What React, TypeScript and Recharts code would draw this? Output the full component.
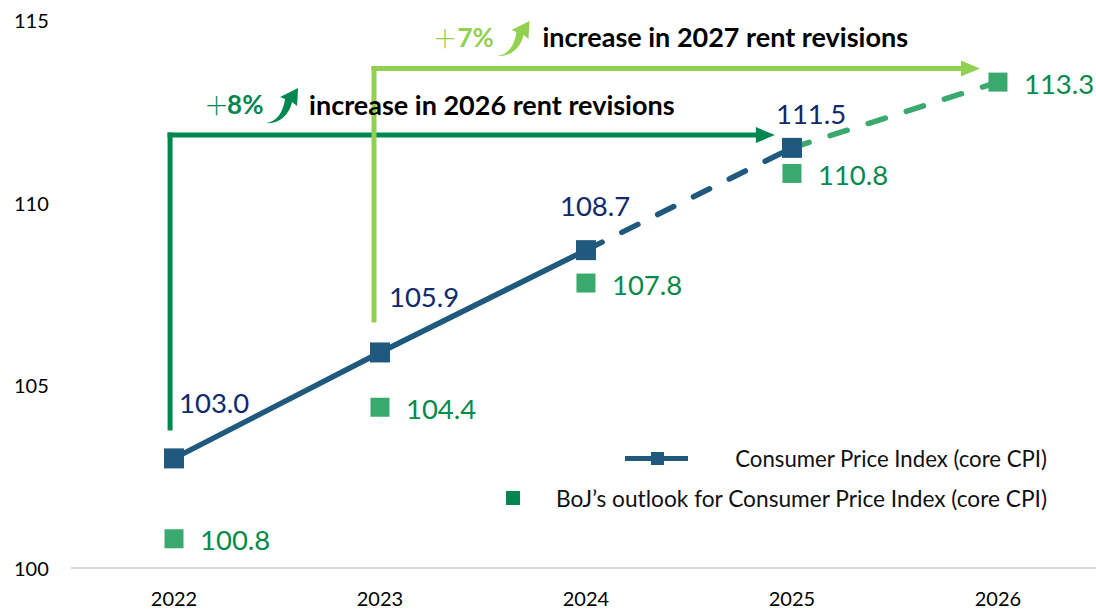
import React from 'react';
import {
  ComposedChart,
  Line,
  XAxis,
  YAxis,
  ReferenceLine,
  ReferenceDot,
  Legend,
  LabelList,
} from 'recharts';

// ---------- data ----------
const years = ['2022', '2023', '2024', '2025', '2026'];
const cpiActual = [103.0, 105.9, 108.7, null, null];
const cpiForecast = [null, null, 108.7, 111.5, null];
const bojBridge = [null, null, null, 111.5, 113.3];
const cpiMarkers = [103.0, 105.9, 108.7, 111.5, null];
const bojOutlook = [100.8, 104.4, 107.8, 110.8, 113.3];
const yTicks = [100, 105, 110, 115];
const seriesNames = [
  'Consumer Price Index (core CPI)',
  'BoJ\u2019s outlook for Consumer Price Index (core CPI)',
];
const rentNotes = [
  { pct: '8%', text: 'increase in 2026 rent revisions' },
  { pct: '7%', text: 'increase in 2027 rent revisions' },
];

const data = years.map((y, i) => ({
  x: i,
  year: y,
  cpiActual: cpiActual[i],
  cpiForecast: cpiForecast[i],
  bojBridge: bojBridge[i],
  cpiMarkers: cpiMarkers[i],
  bojOutlook: bojOutlook[i],
}));

// ---------- styles ----------
const FONT = 'Lato, "Noto Sans", sans-serif';
const NAVY_LINE = '#1f5a7e';
const NAVY_TEXT = '#0f2b6b';
const GREEN_TEXT = '#078a4c';
const GREEN_MARK = '#3aa96e';
const DARK_GREEN = '#00874f';
const LIGHT_GREEN = '#92d050';

const squareDot = (size: number, fill: string) => (props: any) => {
  const { cx, cy, value, index } = props;
  if (value == null || cx == null || cy == null || isNaN(cy)) return <g key={`e${index}`} />;
  return (
    <rect key={`s${index}`} x={cx - size / 2} y={cy - size / 2} width={size} height={size} fill={fill} />
  );
};

const cpiLabelOffsets = [
  [5, -56],
  [9, -56],
  [-26, -45],
  [-16, -34],
];

const cpiLabel = (props: any) => {
  const { x, y, value, index } = props;
  if (value == null || x == null || y == null) return null;
  const off = cpiLabelOffsets[index] || [0, -30];
  return (
    <text
      key={`cl${index}`}
      x={x + off[0]}
      y={y + off[1]}
      dominantBaseline="central"
      fill={NAVY_TEXT}
      fontSize={27.5}
      fontFamily={FONT}
    >
      {Number(value).toFixed(1)}
    </text>
  );
};

const bojLabel = (props: any) => {
  const { x, y, value, index } = props;
  if (value == null || x == null || y == null) return null;
  return (
    <text
      key={`bl${index}`}
      x={x + 26}
      y={y + 1}
      dominantBaseline="central"
      fill={GREEN_TEXT}
      fontSize={27.5}
      fontFamily={FONT}
    >
      {Number(value).toFixed(1)}
    </text>
  );
};

const XTick = (props: any) => {
  const { x, y, payload } = props;
  return (
    <text x={x} y={y + 30} textAnchor="middle" fill="#000" fontSize={20} fontFamily={FONT}>
      {years[payload.value]}
    </text>
  );
};

const YTick = (props: any) => {
  const { y, payload } = props;
  return (
    <text x={14} y={y} dominantBaseline="central" textAnchor="start" fill="#000" fontSize={20} fontFamily={FONT}>
      {payload.value}
    </text>
  );
};

const arrowIconPath =
  'M0,35 C10,34 17,25 19,11 L14,9 L32,0 L31,18 L26,14 C23,28 12,36 0,35 Z';

const makeNote = (note: { pct: string; text: string }, color: string, pctOff: number, arrowOff: number, textOff: number) =>
  (props: any) => {
    const { cx, cy } = props;
    return (
      <g>
        <text x={cx} y={cy - 1} dominantBaseline="central" fill={color} fontSize={25} fontWeight={300} fontFamily={'"Noto Sans CJK JP", sans-serif'}>
          {'\uFF0B'}
        </text>
        <text x={cx + pctOff} y={cy - 1} dominantBaseline="central" fill={color} fontSize={26} fontWeight={700} fontFamily={FONT}>
          {note.pct}
        </text>
        <path d={arrowIconPath} transform={`translate(${cx + arrowOff},${cy - 17})`} fill={color} />
        <text x={cx + textOff} y={cy - 1} dominantBaseline="central" fill="#000" fontSize={27} fontWeight={700} fontFamily={FONT}>
          {note.text}
        </text>
      </g>
    );
  };

const arrowHead = (color: string) => (props: any) => {
  const { cx, cy } = props;
  return <polygon points={`${cx},${cy} ${cx - 19},${cy - 8} ${cx - 19},${cy + 8}`} fill={color} />;
};

const renderLegend = () => (
  <div style={{ position: 'relative', width: 570, height: 80, fontFamily: FONT, color: '#111' }}>
    <div style={{ position: 'absolute', left: 135, top: 20, width: 63, height: 5, background: NAVY_LINE }} />
    <div style={{ position: 'absolute', left: 161, top: 15.5, width: 13, height: 13, background: NAVY_LINE }} />
    <div style={{ position: 'absolute', right: 13, top: 8, height: 30, lineHeight: '30px', fontSize: 22.2, whiteSpace: 'nowrap' }}>
      {seriesNames[0]}
    </div>
    <div style={{ position: 'absolute', left: 16, top: 55, width: 14, height: 14, background: DARK_GREEN }} />
    <div style={{ position: 'absolute', right: 13, top: 48, height: 30, lineHeight: '30px', fontSize: 22.7, whiteSpace: 'nowrap' }}>
      {seriesNames[1]}
    </div>
  </div>
);

export default function App() {
  return (
    <div style={{ position: 'absolute', left: 0, top: 0, width: 1096, height: 610, background: '#fff', fontFamily: FONT }}>
      <ComposedChart width={1096} height={610} data={data} margin={{ top: 20, right: 0, bottom: 0, left: 0 }}>
        <XAxis
          dataKey="x"
          type="number"
          domain={[-0.5, 4.476]}
          ticks={[0, 1, 2, 3, 4]}
          allowDataOverflow
          tickLine={false}
          axisLine={{ stroke: '#d9d9d9', strokeWidth: 2 }}
          height={42}
          tick={<XTick />}
          interval={0}
        />
        <YAxis
          type="number"
          domain={[100, 115]}
          ticks={yTicks}
          width={71}
          axisLine={false}
          tickLine={false}
          tick={<YTick />}
          allowDataOverflow
        />
        <Legend
          layout="horizontal"
          verticalAlign="middle"
          align="center"
          content={renderLegend}
          wrapperStyle={{ position: 'absolute', left: 490, top: 436, width: 570, height: 80 }}
        />

        {/* rent revision arrows */}
        <ReferenceLine
          segment={[{ x: -0.019, y: 103.83 }, { x: -0.019, y: 111.85 }]}
          stroke={DARK_GREEN}
          strokeWidth={5}
          strokeLinecap="square"
          ifOverflow="visible"
        />
        <ReferenceLine
          segment={[{ x: -0.019, y: 111.85 }, { x: 2.86, y: 111.85 }]}
          stroke={DARK_GREEN}
          strokeWidth={5}
          strokeLinecap="square"
          ifOverflow="visible"
        />
        <ReferenceDot x={2.917} y={111.85} r={1} ifOverflow="visible" shape={arrowHead(DARK_GREEN)} />
        <ReferenceLine
          segment={[{ x: 0.971, y: 106.79 }, { x: 0.971, y: 113.67 }]}
          stroke={LIGHT_GREEN}
          strokeWidth={5}
          strokeLinecap="square"
          ifOverflow="visible"
        />
        <ReferenceLine
          segment={[{ x: 0.971, y: 113.67 }, { x: 3.86, y: 113.67 }]}
          stroke={LIGHT_GREEN}
          strokeWidth={5}
          strokeLinecap="square"
          ifOverflow="visible"
        />
        <ReferenceDot x={3.913} y={113.67} r={1} ifOverflow="visible" shape={arrowHead(LIGHT_GREEN)} />
        <ReferenceDot x={0.146} y={112.67} r={1} ifOverflow="visible" shape={makeNote(rentNotes[0], DARK_GREEN, 23, 62, 105)} />
        <ReferenceDot x={1.255} y={114.51} r={1} ifOverflow="visible" shape={makeNote(rentNotes[1], LIGHT_GREEN, 25, 65, 110)} />

        {/* series */}
        <Line
          dataKey="bojBridge"
          stroke={GREEN_MARK}
          strokeWidth={5.5}
          strokeDasharray="18 22"
          strokeLinecap="round"
          dot={false}
          activeDot={false}
          isAnimationActive={false}
        />
        <Line
          dataKey="cpiForecast"
          stroke={NAVY_LINE}
          strokeWidth={5.5}
          strokeDasharray="18 22"
          strokeLinecap="round"
          dot={false}
          activeDot={false}
          isAnimationActive={false}
        />
        <Line
          dataKey="cpiActual"
          stroke={NAVY_LINE}
          strokeWidth={5.5}
          dot={false}
          activeDot={false}
          isAnimationActive={false}
        />
        <Line
          dataKey="bojOutlook"
          stroke="none"
          dot={squareDot(19, GREEN_MARK)}
          activeDot={false}
          isAnimationActive={false}
        >
          <LabelList dataKey="bojOutlook" content={bojLabel} />
        </Line>
        <Line
          dataKey="cpiMarkers"
          stroke="none"
          dot={squareDot(20, NAVY_LINE)}
          activeDot={false}
          isAnimationActive={false}
        >
          <LabelList dataKey="cpiMarkers" content={cpiLabel} />
        </Line>
      </ComposedChart>
    </div>
  );
}
